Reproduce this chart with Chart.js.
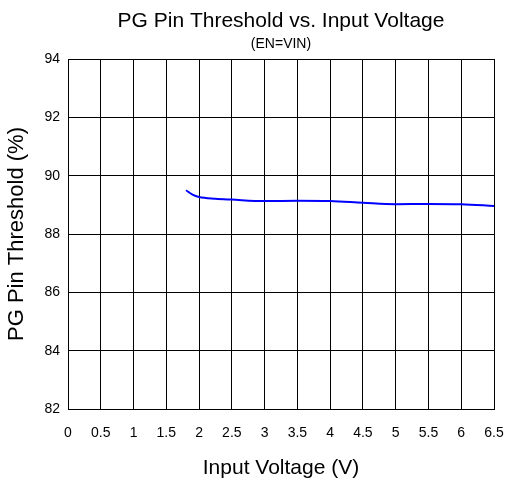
<!DOCTYPE html>
<html>
<head>
<meta charset="utf-8">
<script src="https://cdn.jsdelivr.net/npm/chart.js@4"></script>
<style>
  html, body { margin: 0; padding: 0; background: #fff; }
  canvas { display: block; }
</style>
</head>
<body>
<canvas id="pg" width="513" height="481"></canvas>
<script>
// data
var vin = [1.8, 1.9, 2.0, 2.25, 2.5, 3.0, 3.5, 4.0, 4.5, 5.0, 5.5, 6.0, 6.5];
var pgThr = [89.5, 89.35, 89.27, 89.21, 89.18, 89.13, 89.14, 89.13, 89.07, 89.02, 89.03, 89.02, 88.96];

var xTicks = [0, 0.5, 1, 1.5, 2, 2.5, 3, 3.5, 4, 4.5, 5, 5.5, 6, 6.5];
var yTicks = [82, 84, 86, 88, 90, 92, 94];

var fam = "'Liberation Sans', Arial, sans-serif";

var pts = vin.map(function(v, i){
    return {x: v, y: pgThr[i]};
});

var pgChart = new Chart(document.getElementById('pg').getContext('2d'), {
    type: 'line',
    data: {
        datasets: [{
            label: 'PG',
            data: pts,
            borderColor: '#0000ff',
            borderWidth: 2,
            pointRadius: 0,
            fill: false,
            cubicInterpolationMode: 'monotone'
        }]
    },
    options: {
        responsive: false,
        animation: false,
        devicePixelRatio: 1,
        layout: { padding: { left: 0, right: 19, top: 0, bottom: 0 } },
        plugins: {
            legend: { display: false },
            tooltip: { enabled: false },
            title: {
                display: true,
                fullSize: false,
                text: 'PG Pin Threshold vs. Input Voltage',
                color: '#000',
                font: { family: fam, size: 21, weight: 'normal' },
                padding: { top: 9, bottom: 1 }
            },
            subtitle: {
                display: true,
                fullSize: false,
                text: '(EN=VIN)',
                color: '#000',
                font: { family: fam, size: 14, weight: 'normal' },
                padding: { top: 1, bottom: 6 }
            }
        },
        scales: {
            x: {
                type: 'linear',
                min: 0,
                max: 6.5,
                afterBuildTicks: function(scale){
                    scale.ticks = xTicks.map(function(v){ return {value: v}; });
                },
                afterFit: function(scale){
                    scale.height = 72;
                    // let the "6.5" label hang past the plot edge like the original
                    scale.paddingLeft = 0;
                    scale.paddingRight = 0;
                },
                ticks: {
                    color: '#000',
                    font: { family: fam, size: 14 },
                    padding: 16,
                    maxRotation: 0,
                    autoSkip: false,
                    callback: function(v){ return String(v); }
                },
                grid: { color: '#000', lineWidth: 1, drawTicks: false },
                border: { color: '#000', width: 1 },
                title: {
                    display: true,
                    text: 'Input Voltage (V)',
                    color: '#000',
                    font: { family: fam, size: 21 },
                    padding: { top: 0, bottom: 0 }
                }
            },
            y: {
                min: 82,
                max: 94,
                afterBuildTicks: function(scale){
                    scale.ticks = yTicks.map(function(v){ return {value: v}; });
                },
                afterFit: function(scale){ scale.width = 68; },
                ticks: {
                    color: '#000',
                    font: { family: fam, size: 14 },
                    padding: 8
                },
                grid: { color: '#000', lineWidth: 1, drawTicks: false },
                border: { color: '#000', width: 1 },
                title: {
                    display: true,
                    text: 'PG Pin Threshold (%)',
                    color: '#000',
                    font: { family: fam, size: 22 },
                    padding: { top: 4, bottom: 0 }
                }
            }
        }
    }
});
</script>
</body>
</html>
